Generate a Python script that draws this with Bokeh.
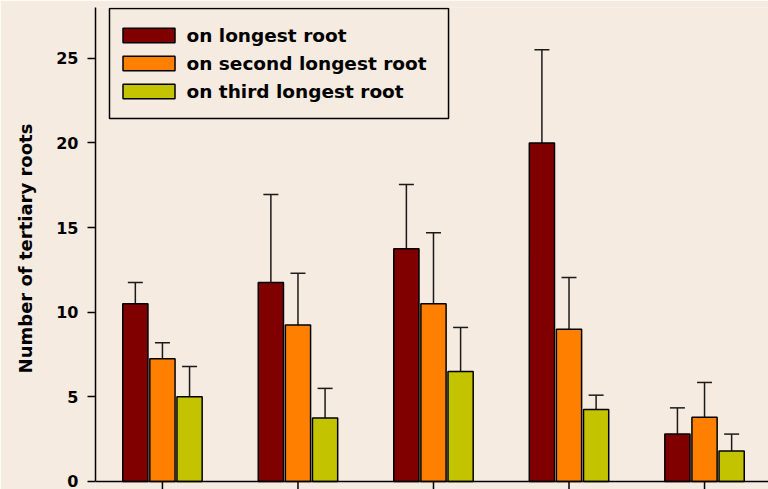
from bokeh.plotting import figure
from bokeh.models import (ColumnDataSource, Range1d, FixedTicker, Whisker, TeeHead,
                          Legend, LegendItem, Span, BoxAnnotation)
from bokeh.transform import dodge
from bokeh.embed import file_html
from bokeh.resources import INLINE

# ---- data ----
groups = [0, 1, 2, 3, 4]
longest = [10.5, 11.75, 13.75, 20.0, 2.8]
longest_err = [1.25, 5.2, 3.8, 5.5, 1.55]
second = [7.25, 9.25, 10.5, 9.0, 3.8]
second_err = [0.95, 3.05, 4.2, 3.05, 2.05]
third = [5.0, 3.75, 6.5, 4.25, 1.8]
third_err = [1.8, 1.75, 2.6, 0.85, 1.0]
series_names = ["on longest root", "on second longest root", "on third longest root"]
y_ticks = [0, 5, 10, 15, 20, 25]

BG = "#f6ebe0"
FONT = "DejaVu Sans"
colors = ["#800000", "#ff8000", "#c3c300"]
offsets = [-0.2, 0.0, 0.2]
Y_MAX = 28
Y_PAD = 0.4726  # room below zero for the outward x ticks (8 px)

p = figure(width=768, height=489, output_backend="svg", toolbar_location=None,
           x_range=Range1d(-0.494, 4.472), y_range=Range1d(-Y_PAD, Y_MAX),
           x_axis_location=None,
           min_border_left=95, min_border_right=0, min_border_top=7, min_border_bottom=0)
p.background_fill_color = BG
p.border_fill_color = BG
p.outline_line_color = None
p.xgrid.visible = False
p.ygrid.visible = False

source = ColumnDataSource(dict(
    x=groups,
    v0=longest, t0=[v + e for v, e in zip(longest, longest_err)],
    v1=second, t1=[v + e for v, e in zip(second, second_err)],
    v2=third, t2=[v + e for v, e in zip(third, third_err)],
))

# x axis line at zero and outward ticks at the group centres
p.segment(x0="x", x1="x", y0=0, y1=-Y_PAD, source=source,
          line_color="black", line_width=1.5)
p.add_layout(Span(location=0, dimension="width", line_color="black", line_width=1.5))

items = []
for i in range(3):
    xs = dodge("x", offsets[i], range=p.x_range)
    w = Whisker(base=xs, upper=f"t{i}", lower=f"v{i}", source=source,
                line_color="#1a1a1a", line_width=1.5,
                upper_head=TeeHead(size=15, line_color="#1a1a1a", line_width=1.5),
                lower_head=None, level="underlay")
    p.add_layout(w)
    r = p.vbar(x=xs, top=f"v{i}", bottom=0, width=0.186, source=source,
               fill_color=colors[i], line_color="black", line_width=1.5)
    items.append(LegendItem(label=series_names[i], renderers=[r]))

# legend frame (drawn separately so its inner margins can be non-uniform)
p.add_layout(BoxAnnotation(left=-0.3907, right=2.111, top=27.94, bottom=21.44,
                           fill_alpha=0.0, line_color="black", line_width=1.5,
                           line_alpha=1.0))

legend = Legend(items=items, location=(20.5, 384), orientation="vertical",
                glyph_width=65, glyph_height=18, label_standoff=6,
                label_text_font=FONT, label_text_font_style="bold",
                label_text_font_size="18.5px", label_text_color="black",
                label_height=28, spacing=0, padding=0, margin=0,
                border_line_color=None, background_fill_alpha=0.0)
p.add_layout(legend, "center")

# y axis
ya = p.yaxis[0]
ya.ticker = FixedTicker(ticks=y_ticks)
ya.bounds = (0, Y_MAX)
ya.minor_tick_line_color = None
ya.major_tick_out = 8
ya.major_tick_in = 0
ya.major_tick_line_width = 1.5
ya.axis_line_width = 1.5
ya.axis_line_color = "black"
ya.major_label_text_font = FONT
ya.major_label_text_font_style = "bold"
ya.major_label_text_font_size = "16px"
ya.major_label_text_color = "black"
ya.major_label_standoff = 9
ya.axis_label = "Number of tertiary roots"
ya.axis_label_text_font = FONT
ya.axis_label_text_font_style = "bold"
ya.axis_label_text_font_size = "18px"
ya.axis_label_text_color = "black"
ya.axis_label_standoff = 17

open("out.html", "w").write(file_html(p, INLINE))
